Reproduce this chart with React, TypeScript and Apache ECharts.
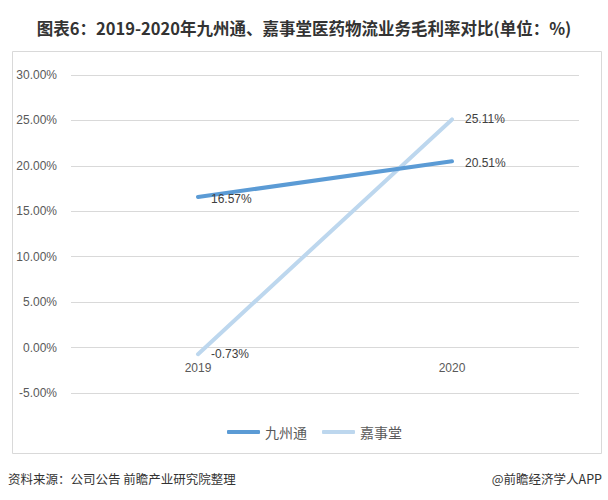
import React, { useEffect, useRef } from "react";
import * as echarts from "echarts";

const categories = ["2019", "2020"];
const jiuzhoutong = [16.57, 20.51];
const jiashitang = [-0.73, 25.11];
const seriesNames = ["九州通", "嘉事堂"];
const yTicks = { min: -5, max: 30, interval: 5 };

export default function App() {
  const ref = useRef<HTMLDivElement>(null);
  useEffect(() => {
    document.body.style.margin = "0";
    const chart = echarts.init(ref.current!, null, { renderer: "svg" });
    const gridTop = 75;
    const gridBottom = 107;
    const plotH = 500 - gridTop - gridBottom;
    // distance of the zero line above the bottom of the plot
    const zeroOffset = (plotH * (0 - yTicks.min)) / (yTicks.max - yTicks.min);
    const labelStyle = {
      show: true,
      position: "right" as const,
      distance: 12,
      color: "#404040",
      fontSize: 12,
      fontFamily: "Liberation Sans, Arial, sans-serif",
      formatter: (p: any) => p.value.toFixed(2) + "%",
    };
    chart.setOption({
      animation: false,
      backgroundColor: "#ffffff",
      title: {
        text: "图表6：2019-2020年九州通、嘉事堂医药物流业务毛利率对比(单位：%)",
        left: "center",
        top: 15,
        textStyle: {
          fontSize: 16.5,
          fontWeight: "bold",
          color: "#333333",
          fontFamily: "Noto Sans CJK SC, sans-serif",
        },
      },
      graphic: [
        {
          type: "rect",
          shape: { x: 12.5, y: 51.5, width: 589, height: 402 },
          style: { fill: "none", stroke: "#d9d9d9", lineWidth: 1 },
          silent: true,
        },
        {
          type: "text",
          left: 8,
          top: 472,
          style: {
            text: "资料来源：公司公告 前瞻产业研究院整理",
            fill: "#333333",
            fontSize: 12.5,
            fontFamily: "Noto Sans CJK SC, sans-serif",
          },
        },
        {
          type: "text",
          right: 6,
          top: 472,
          style: {
            text: "@前瞻经济学人APP",
            fill: "#333333",
            fontSize: 12.5,
            fontFamily: "Noto Sans CJK SC, sans-serif",
          },
        },
      ],
      legend: {
        data: seriesNames.map((n) => ({ name: n, icon: "roundRect" })),
        left: 222,
        top: 420,
        itemWidth: 33,
        itemHeight: 4,
        itemGap: 15,
        textStyle: {
          color: "#595959",
          fontSize: 14,
          fontFamily: "Noto Sans CJK SC, sans-serif",
        },
      },
      grid: { left: 71, right: 29, top: gridTop, bottom: gridBottom },
      xAxis: {
        type: "category",
        data: categories,
        boundaryGap: true,
        offset: -zeroOffset,
        axisLine: { show: false, onZero: false },
        axisTick: { show: false },
        axisLabel: {
          color: "#595959",
          fontSize: 12,
          margin: 14,
          fontFamily: "Liberation Sans, Arial, sans-serif",
        },
      },
      yAxis: {
        type: "value",
        min: yTicks.min,
        max: yTicks.max,
        interval: yTicks.interval,
        axisLine: { show: false },
        axisTick: { show: false },
        splitLine: { lineStyle: { color: "#d9d9d9", width: 1 } },
        axisLabel: {
          color: "#595959",
          fontSize: 12,
          margin: 14,
          fontFamily: "Liberation Sans, Arial, sans-serif",
          formatter: (v: number) => v.toFixed(2) + "%",
        },
      },
      series: [
        {
          name: seriesNames[0],
          type: "line",
          data: jiuzhoutong,
          symbol: "circle",
          symbolSize: 2,
          showSymbol: true,
          lineStyle: { color: "#5B9BD5", width: 4, cap: "round" },
          itemStyle: { color: "#5B9BD5" },
          label: { ...labelStyle, offset: [0, 2] },
          z: 3,
        },
        {
          name: seriesNames[1],
          type: "line",
          data: jiashitang,
          symbol: "circle",
          symbolSize: 2,
          showSymbol: true,
          lineStyle: { color: "#BDD7EE", width: 4, cap: "round" },
          itemStyle: { color: "#BDD7EE" },
          label: labelStyle,
          z: 2,
        },
      ],
    });
    return () => chart.dispose();
  }, []);
  return (
    <div
      ref={ref}
      style={{ position: "absolute", left: 0, top: 0, width: 608, height: 500 }}
    />
  );
}
